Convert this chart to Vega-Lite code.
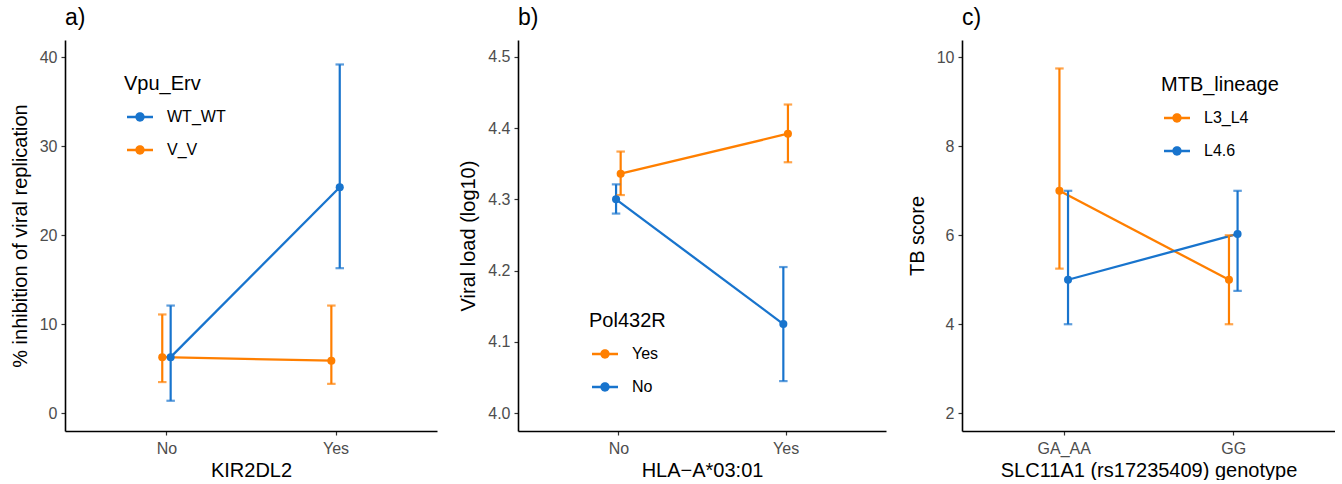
{
  "$schema": "https://vega.github.io/schema/vega-lite/v6.json",
  "background": "white",
  "padding": {"left": 10, "top": 7, "right": 0, "bottom": 0},
  "spacing": 81,
  "bounds": "flush",
  "resolve": {
    "scale": {"color": "independent", "xOffset": "independent", "x": "independent", "y": "independent"},
    "legend": {"color": "independent"}
  },
  "config": {
    "font": "Liberation Sans",
    "view": {"stroke": null},
    "axis": {
      "grid": false,
      "domainColor": "black",
      "domainWidth": 1.6,
      "tickColor": "#333333",
      "tickSize": 4,
      "tickWidth": 1.2,
      "labelColor": "#4D4D4D",
      "labelFontSize": 16,
      "labelPadding": 4,
      "titleFontSize": 20,
      "titleFontWeight": "normal",
      "titleColor": "black"
    },
    "axisX": {"labelAngle": 0, "labelPadding": 5, "titlePadding": 4},
    "axisY": {"titlePadding": 9},
    "legend": {
      "orient": "none",
      "titleFontSize": 20,
      "titleFontWeight": "normal",
      "titleColor": "black",
      "titlePadding": 10,
      "labelFontSize": 16,
      "labelColor": "black",
      "labelOffset": 14,
      "rowPadding": 12,
      "symbolOffset": 3,
      "symbolSize": 676,
      "symbolOpacity": 1,
      "symbolStrokeWidth": 0
    },
    "title": {"fontSize": 23, "fontWeight": "normal", "anchor": "start", "frame": "group", "offset": 10, "color": "black"}
  },
  "hconcat": [
    {
      "width": 372,
      "height": 391,
      "title": "a)",
      "data": {"values": [
        {"KIR2DL2": "No", "Vpu_Erv": "WT_WT", "mean": 6.3, "lower": 1.4, "upper": 12.1},
        {"KIR2DL2": "Yes", "Vpu_Erv": "WT_WT", "mean": 25.4, "lower": 16.3, "upper": 39.2},
        {"KIR2DL2": "No", "Vpu_Erv": "V_V", "mean": 6.3, "lower": 3.5, "upper": 11.1},
        {"KIR2DL2": "Yes", "Vpu_Erv": "V_V", "mean": 5.9, "lower": 3.3, "upper": 12.1}
      ]},
      "encoding": {
        "x": {"field": "KIR2DL2", "type": "nominal", "sort": ["No", "Yes"], "scale": {"type": "point", "padding": 0.6}, "axis": {"title": "KIR2DL2"}},
        "xOffset": {"field": "Vpu_Erv", "type": "nominal", "scale": {"type": "point", "domain": ["V_V", "WT_WT"], "range": [-4.2, 4.2], "padding": 0}},
        "color": {"field": "Vpu_Erv", "type": "nominal", "scale": {"domain": ["WT_WT", "V_V"], "range": ["#1874CD", "#FF7F00"]},
          "legend": {"title": "Vpu_Erv", "legendX": 59, "legendY": 34, "symbolType": "M-1,-0.09H-0.3V0.09H-1Z M0.3,-0.09H1V0.09H0.3Z M-0.36,0A0.36,0.36 0 1,1 0.36,0A0.36,0.36 0 1,1 -0.36,0Z", "symbolFillColor": null}}
      },
      "layer": [
        {"mark": {"type": "line", "strokeWidth": 2.3}, "encoding": {"y": {"field": "mean", "type": "quantitative", "scale": {"domain": [-2.0, 41.95], "nice": false, "zero": false}, "axis": {"title": "% inhibition of viral replication", "values": [0, 10, 20, 30, 40]}}}},
        {"mark": {"type": "rule", "strokeWidth": 2.2}, "encoding": {"y": {"field": "lower", "type": "quantitative"}, "y2": {"field": "upper"}}},
        {"mark": {"type": "tick", "thickness": 2.2, "size": 8.5}, "encoding": {"y": {"field": "lower", "type": "quantitative"}}},
        {"mark": {"type": "tick", "thickness": 2.2, "size": 8.5}, "encoding": {"y": {"field": "upper", "type": "quantitative"}}},
        {"mark": {"type": "point", "filled": true, "opacity": 1, "size": 65}, "encoding": {"y": {"field": "mean", "type": "quantitative"}}}
      ]
    },
    {
      "spacing": 76,
      "bounds": "flush",
      "resolve": {
        "scale": {"color": "independent", "xOffset": "independent", "x": "independent", "y": "independent"},
        "legend": {"color": "independent"}
      },
      "hconcat": [
        {
          "width": 368,
          "height": 391,
          "title": "b)",
          "data": {"values": [
            {"HLA": "No", "Pol432R": "Yes", "mean": 4.336, "lower": 4.306, "upper": 4.367},
            {"HLA": "Yes", "Pol432R": "Yes", "mean": 4.392, "lower": 4.352, "upper": 4.433},
            {"HLA": "No", "Pol432R": "No", "mean": 4.300, "lower": 4.280, "upper": 4.321},
            {"HLA": "Yes", "Pol432R": "No", "mean": 4.125, "lower": 4.045, "upper": 4.205}
          ]},
          "encoding": {
            "x": {"field": "HLA", "type": "nominal", "sort": ["No", "Yes"], "scale": {"type": "point", "padding": 0.6}, "axis": {"title": "HLA\u2212A*03:01"}},
            "xOffset": {"field": "Pol432R", "type": "nominal", "scale": {"type": "point", "domain": ["No", "Yes"], "range": [-2.3, 2.3], "padding": 0}},
            "color": {"field": "Pol432R", "type": "nominal", "scale": {"domain": ["Yes", "No"], "range": ["#FF7F00", "#1874CD"]},
              "legend": {"title": "Pol432R", "legendX": 71, "legendY": 271, "symbolType": "M-1,-0.09H-0.3V0.09H-1Z M0.3,-0.09H1V0.09H0.3Z M-0.36,0A0.36,0.36 0 1,1 0.36,0A0.36,0.36 0 1,1 -0.36,0Z", "symbolFillColor": null}}
          },
          "layer": [
            {"mark": {"type": "line", "strokeWidth": 2.3}, "encoding": {"y": {"field": "mean", "type": "quantitative", "scale": {"domain": [3.975, 4.5235], "nice": false, "zero": false}, "axis": {"title": "Viral load (log10)", "values": [4.0, 4.1, 4.2, 4.3, 4.4, 4.5], "format": ".1f"}}}},
            {"mark": {"type": "rule", "strokeWidth": 2.2}, "encoding": {"y": {"field": "lower", "type": "quantitative"}, "y2": {"field": "upper"}}},
            {"mark": {"type": "tick", "thickness": 2.2, "size": 8.5}, "encoding": {"y": {"field": "lower", "type": "quantitative"}}},
            {"mark": {"type": "tick", "thickness": 2.2, "size": 8.5}, "encoding": {"y": {"field": "upper", "type": "quantitative"}}},
            {"mark": {"type": "point", "filled": true, "opacity": 1, "size": 65}, "encoding": {"y": {"field": "mean", "type": "quantitative"}}}
          ]
        },
        {
          "width": 373,
          "height": 391,
          "title": "c)",
          "data": {"values": [
            {"genotype": "GA_AA", "MTB_lineage": "L3_L4", "mean": 7.0, "lower": 5.25, "upper": 9.75},
            {"genotype": "GG", "MTB_lineage": "L3_L4", "mean": 5.0, "lower": 4.0, "upper": 6.0},
            {"genotype": "GA_AA", "MTB_lineage": "L4.6", "mean": 5.0, "lower": 4.0, "upper": 7.0},
            {"genotype": "GG", "MTB_lineage": "L4.6", "mean": 6.03, "lower": 4.75, "upper": 7.0}
          ]},
          "encoding": {
            "x": {"field": "genotype", "type": "nominal", "sort": ["GA_AA", "GG"], "scale": {"type": "point", "padding": 0.6}, "axis": {"title": "SLC11A1 (rs17235409) genotype"}},
            "xOffset": {"field": "MTB_lineage", "type": "nominal", "scale": {"type": "point", "domain": ["L3_L4", "L4.6"], "range": [-4.3, 4.3], "padding": 0}},
            "color": {"field": "MTB_lineage", "type": "nominal", "scale": {"domain": ["L3_L4", "L4.6"], "range": ["#FF7F00", "#1874CD"]},
              "legend": {"title": "MTB_lineage", "legendX": 199, "legendY": 35, "symbolType": "M-1,-0.09H-0.3V0.09H-1Z M0.3,-0.09H1V0.09H0.3Z M-0.36,0A0.36,0.36 0 1,1 0.36,0A0.36,0.36 0 1,1 -0.36,0Z", "symbolFillColor": null}}
          },
          "layer": [
            {"mark": {"type": "line", "strokeWidth": 2.3}, "encoding": {"y": {"field": "mean", "type": "quantitative", "scale": {"domain": [1.6, 10.39], "nice": false, "zero": false}, "axis": {"title": "TB score", "values": [2, 4, 6, 8, 10]}}}},
            {"mark": {"type": "rule", "strokeWidth": 2.2}, "encoding": {"y": {"field": "lower", "type": "quantitative"}, "y2": {"field": "upper"}}},
            {"mark": {"type": "tick", "thickness": 2.2, "size": 8.5}, "encoding": {"y": {"field": "lower", "type": "quantitative"}}},
            {"mark": {"type": "tick", "thickness": 2.2, "size": 8.5}, "encoding": {"y": {"field": "upper", "type": "quantitative"}}},
            {"mark": {"type": "point", "filled": true, "opacity": 1, "size": 65}, "encoding": {"y": {"field": "mean", "type": "quantitative"}}}
          ]
        }
      ]
    }
  ]
}
